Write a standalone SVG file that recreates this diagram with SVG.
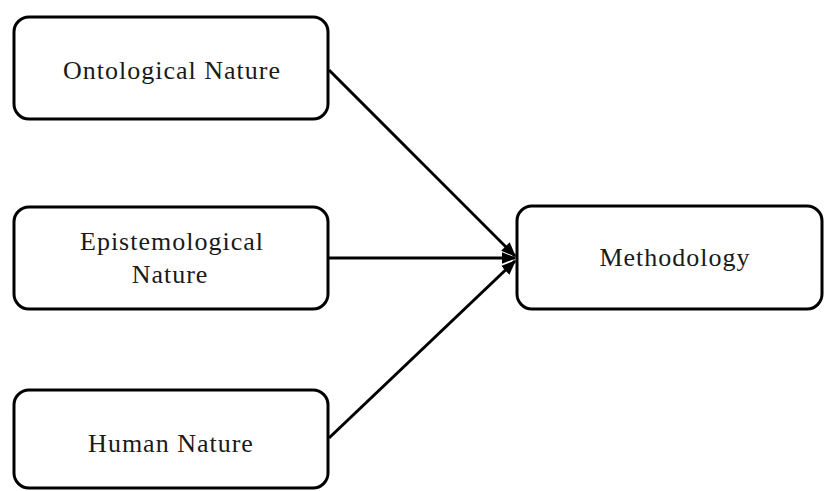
<svg xmlns="http://www.w3.org/2000/svg" width="824" height="491" viewBox="0 0 824 491">
  <style>
    .box { fill: #ffffff; stroke: #000000; stroke-width: 3; }
    .lbl { font-family: "Liberation Serif", "Times New Roman", serif; font-size: 26px; letter-spacing: 1px; fill: #1a1a1a; text-anchor: middle; }
    .edge { stroke: #000000; stroke-width: 3; fill: none; marker-end: url(#head); }
  </style>
  <defs>
    <marker id="head" viewBox="0 0 10 8" refX="9" refY="4" markerWidth="5" markerHeight="4.4" orient="auto" markerUnits="strokeWidth">
      <path d="M0,0 L10,4 L0,8 z" fill="#000000"/>
    </marker>
  </defs>
  <rect width="824" height="491" fill="#ffffff"/>

  <g id="edges">
    <line class="edge" x1="329" y1="70" x2="515" y2="256"/>
    <line class="edge" x1="329" y1="258" x2="515" y2="258"/>
    <line class="edge" x1="329" y1="438" x2="515" y2="261"/>
  </g>

  <g id="ontological">
    <rect class="box" x="14" y="17" width="314" height="102" rx="15"/>
    <text class="lbl" x="172" y="79">Ontological Nature</text>
  </g>

  <g id="epistemological">
    <rect class="box" x="14" y="207" width="314" height="102" rx="15"/>
    <text class="lbl" x="172" y="250">Epistemological</text>
    <text class="lbl" x="170" y="283">Nature</text>
  </g>

  <g id="human">
    <rect class="box" x="14" y="390" width="314" height="98" rx="15"/>
    <text class="lbl" x="171" y="452">Human Nature</text>
  </g>

  <g id="methodology">
    <rect class="box" x="517" y="206" width="305" height="103" rx="15"/>
    <text class="lbl" x="675" y="266">Methodology</text>
  </g>
</svg>
